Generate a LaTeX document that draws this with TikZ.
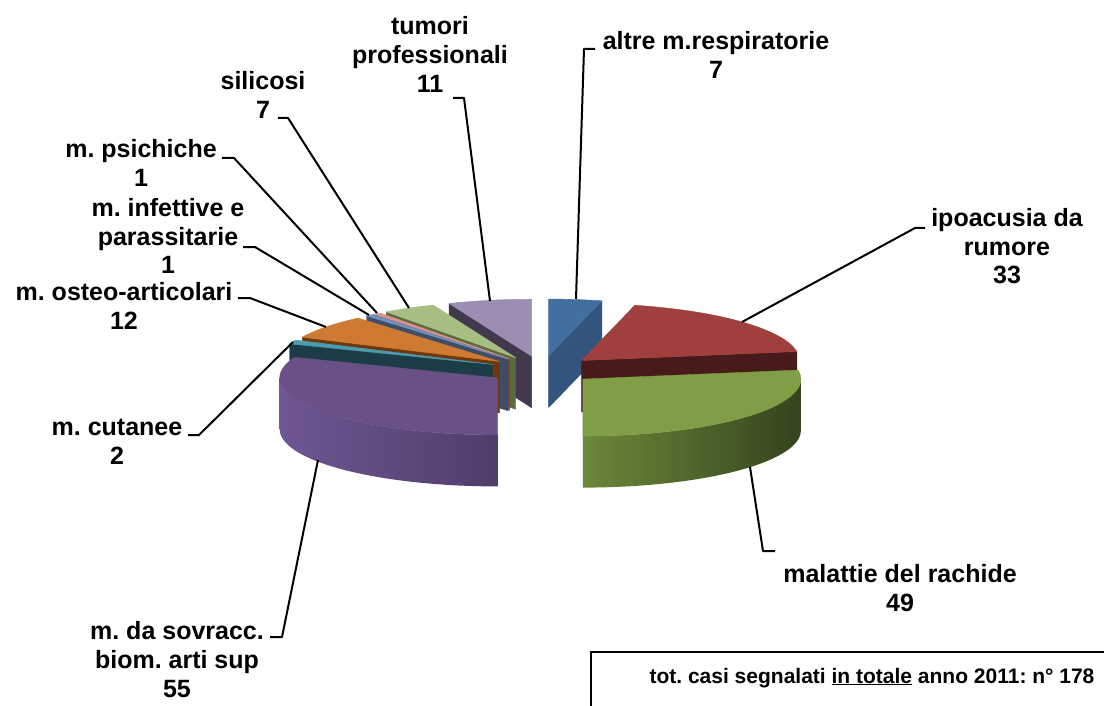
\documentclass[tikz,border=0pt]{standalone}
\usepackage{fontspec}
\setmainfont{Liberation Sans}
\frenchspacing
\newcommand{\ml}[1]{\begin{tabular}[t]{@{}c@{}}#1\end{tabular}}
% slice colours (top / side)
\definecolor{tumT}{HTML}{9C8DB3}\definecolor{tumS}{HTML}{42394F}
\definecolor{silT}{HTML}{A7BE83}\definecolor{silS}{HTML}{5B6B3C}
\definecolor{psiT}{HTML}{D9928F}\definecolor{psiS}{HTML}{6B4545}
\definecolor{infT}{HTML}{7191C3}\definecolor{infS}{HTML}{3F4E66}
\definecolor{ostT}{HTML}{CF7A32}\definecolor{ostS}{HTML}{6E380E}
\definecolor{cutT}{HTML}{4A9DB0}\definecolor{cutS}{HTML}{1C3D47}
\definecolor{purT}{HTML}{695087}\definecolor{purL}{HTML}{6F5694}\definecolor{purM}{HTML}{624B82}\definecolor{purR}{HTML}{503D6A}
\definecolor{altT}{HTML}{436EA0}\definecolor{altS}{HTML}{33557D}
\definecolor{ipoT}{HTML}{A0403E}\definecolor{ipoS}{HTML}{481A1A}
\definecolor{racT}{HTML}{809E46}\definecolor{racL}{HTML}{6C883A}\definecolor{racM}{HTML}{4A5E28}\definecolor{racR}{HTML}{34431D}
% pie geometry: base centre (542,370), radii 218 x 57, height 51.5, explosion 0.246
\newcommand{\PieSet}[2]{%
  \pgfmathsetmacro{\pcA}{#1*2.02247191}%
  \pgfmathsetmacro{\pcB}{#2*2.02247191}%
  \pgfmathsetmacro{\pcM}{(\pcA+\pcB)/2}%
  \pgfmathsetmacro{\pcX}{542+0.246*218*sin(\pcM)}%
  \pgfmathsetmacro{\pcY}{370-0.246*57*cos(\pcM)}%
}
\newcommand{\PieTop}[1]{%
  \filldraw[face,fill=#1,draw=#1] (\pcX,\pcY) -- plot[domain=\pcA:\pcB,samples=60,variable=\t] ({\pcX+218*sin(\t)},{\pcY-57*cos(\t)}) -- cycle;}
\newcommand{\PieSide}[2]{%
  \pgfmathsetmacro{\pcSx}{\pcX+218*sin(#1)}%
  \pgfmathsetmacro{\pcSy}{\pcY-57*cos(#1)}%
  \filldraw[face,fill=#2,draw=#2] (\pcX,\pcY) -- (\pcSx,\pcSy) -- (\pcSx,{\pcSy+51.5}) -- (\pcX,{\pcY+51.5}) -- cycle;}
\newcommand{\PieLat}[3]{%
  \path[#3] plot[domain=#1:#2,samples=60,variable=\t] ({\pcX+218*sin(\t)},{\pcY-57*cos(\t)})
    -- plot[domain=#2:#1,samples=60,variable=\t] ({\pcX+218*sin(\t)},{\pcY-57*cos(\t)+51.5}) -- cycle;}
\begin{document}
\begin{tikzpicture}[x=1pt,y=-1pt,
  face/.style={line width=0.4pt,line join=round},
  lab/.style={font=\fontsize{25}{29}\selectfont\bfseries,inner sep=0pt,anchor=base},
  lead/.style={draw=black,line width=2pt,line join=round}]
\useasboundingbox (0,0) rectangle (1104,706);
\fill[white] (0,0) rectangle (1104,706);
% --- left-back slices, back to front
\PieSet{167}{178}\PieSide{\pcA}{tumS}\PieTop{tumT}
\PieSet{160}{167}\PieSide{\pcA}{silS}\PieTop{silT}
\PieSet{159}{160}\PieSide{\pcA}{psiS}\PieTop{psiT}
\PieSet{158}{159}\PieSide{\pcA}{infS}\PieTop{infT}
\PieSet{146}{158}\PieSide{\pcA}{ostS}\PieTop{ostT}
\PieSet{144}{146}\PieSide{\pcA}{cutS}\PieTop{cutT}
\PieSet{89}{144}\PieLat{180}{270}{left color=purL,middle color=purM,right color=purR}\PieTop{purT}
% --- right slices
\PieSet{0}{7}\PieSide{\pcB}{altS}\PieTop{altT}
\PieSet{7}{40}\PieSide{\pcB}{ipoS}\PieTop{ipoT}
\PieSet{40}{89}\PieLat{90}{180}{left color=racL,middle color=racM,right color=racR}\PieTop{racT}
% --- labels
\node[lab] (tum) at (430,34.5) {\ml{tumori\\professionali\\11}};
\node[lab] (sil) at (263,90) {\ml{silicosi\\7}};
\node[lab] (psi) at (141,158) {\ml{m. psichiche\\1}};
\node[lab] (inf) at (168,216) {\ml{m. infettive e\\parassitarie\\1}};
\node[lab] (ost) at (124,300) {\ml{m. osteo-articolari\\12}};
\node[lab] (cut) at (117,435) {\ml{m. cutanee\\2}};
\node[lab] (sov) at (177,639) {\ml{m. da sovracc.\\biom. arti sup\\55}};
\node[lab] (alt) at (716,50) {\ml{altre m.respiratorie\\7}};
\node[lab] (ipo) at (1007,226) {\ml{ipoacusia da\\rumore\\33}};
\node[lab] (rac) at (900,582) {\ml{malattie del rachide\\49}};
% --- leader points
\coordinate (tum-a) at (453,98);  \coordinate (tum-b) at (464,98);  \coordinate (tum-p) at (490,301);
\coordinate (sil-a) at (278,118); \coordinate (sil-b) at (288,118); \coordinate (sil-p) at (409,308);
\coordinate (psi-a) at (222,158); \coordinate (psi-b) at (234,158); \coordinate (psi-p) at (377,313);
\coordinate (inf-a) at (243,247); \coordinate (inf-b) at (255,247); \coordinate (inf-p) at (369,315);
\coordinate (ost-a) at (238,298); \coordinate (ost-b) at (250,298); \coordinate (ost-p) at (326,327);
\coordinate (cut-a) at (188,435); \coordinate (cut-b) at (199,435); \coordinate (cut-p) at (293,342);
\coordinate (sov-a) at (270,637); \coordinate (sov-b) at (282,637); \coordinate (sov-p) at (318,460);
\coordinate (alt-a) at (595,49);  \coordinate (alt-b) at (584,49);  \coordinate (alt-p) at (576,299);
\coordinate (ipo-a) at (925,228); \coordinate (ipo-b) at (915,228); \coordinate (ipo-p) at (742,322);
\coordinate (rac-a) at (775,551); \coordinate (rac-b) at (763,551); \coordinate (rac-p) at (750,467);
\foreach \n in {tum,sil,psi,inf,ost,cut,sov,alt,ipo,rac}
  \draw[lead] (\n-a) -- (\n-b) -- (\n-p);
% --- total box
\draw[line width=1.5pt] (591,706) -- (591,652) -- (1104,652);
\node[font=\fontsize{21}{25}\selectfont\bfseries,inner sep=0pt,anchor=base] (tot) at (872,683)
  {tot. casi segnalati \underline{in totale} anno 2011: n° 178};
\end{tikzpicture}
\end{document}
